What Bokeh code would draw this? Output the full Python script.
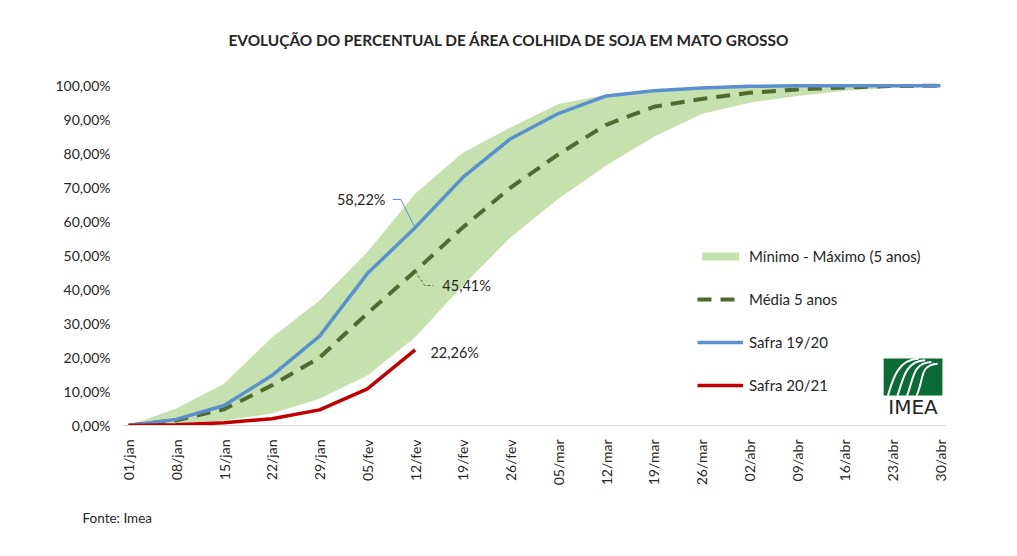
import math
from bokeh.plotting import figure
from bokeh.models import Range1d, Label, Legend, LegendItem, FixedTicker, Title
from bokeh.embed import file_html
from bokeh.resources import INLINE

semanas = ["01/jan", "08/jan", "15/jan", "22/jan", "29/jan", "05/fev", "12/fev",
           "19/fev", "26/fev", "05/mar", "12/mar", "19/mar", "26/mar", "02/abr",
           "09/abr", "16/abr", "23/abr", "30/abr"]
maximo = [0, 5.0, 12.3, 25.9, 36.8, 51.0, 68.2, 80.3, 87.7, 94.6, 97.3, 98.8,
          99.5, 99.8, 99.9, 100, 100, 100]
minimo = [0, 0.6, 1.5, 3.5, 7.9, 14.7, 26.0, 41.2, 55.4, 66.7, 76.5, 85.0,
          91.7, 95.0, 97.0, 98.5, 99.5, 100]
media5 = [0, 1.5, 4.8, 11.8, 20.0, 33.0, 45.41, 58.3, 70.0, 79.8, 88.5, 93.8,
          96.1, 97.9, 98.9, 99.5, 99.9, 100]
safra1920 = [0, 1.8, 5.9, 14.7, 26.3, 44.7, 58.22, 73.0, 84.4, 91.8, 97.0,
             98.5, 99.3, 99.8, 100, 100, 100, 100]
safra2021 = [0, 0.2, 0.8, 2.0, 4.6, 10.8, 22.26]

FONT = "Lato"
TXT = "#262626"
xs = list(range(len(semanas)))

p = figure(width=1008, height=548, output_backend="svg", toolbar_location=None,
           x_range=Range1d(-0.126, 17.105), y_range=Range1d(0, 103),
           min_border_left=122, min_border_right=63, min_border_top=75,
           min_border_bottom=123)
p.outline_line_color = None
p.grid.visible = False

p.title.text = "EVOLUÇÃO DO PERCENTUAL DE ÁREA COLHIDA DE SOJA EM MATO GROSSO"
p.title.align = "left"
p.title.offset = 106
p.title.text_font = FONT
p.title.text_font_size = "15.4px"
p.title.text_color = TXT
p.title.standoff = 53
p.add_layout(Title(text="Fonte: Imea", align="left", text_font=FONT,
                   text_font_size="13.5px", text_font_style="normal",
                   text_color=TXT, offset=-40, standoff=38), "below")

band = p.varea(xs, y1=minimo, y2=maximo, fill_color="#c4e1ae")
med = p.line(xs, media5, line_color="#4f6b2e", line_width=4, line_dash="14 9")
s1 = p.line(xs, safra1920, line_color="#5b8fd0", line_width=3.5)
s2 = p.line(xs[:len(safra2021)], safra2021, line_color="#c00000", line_width=3.5)

# eixos
p.yaxis.ticker = FixedTicker(ticks=list(range(0, 101, 10)))
p.yaxis.major_label_overrides = {v: "%d,00%%" % v for v in range(0, 101, 10)}
p.yaxis.axis_line_color = None
p.yaxis.major_tick_line_color = None
p.yaxis.minor_tick_line_color = None
p.yaxis.major_label_standoff = 6
p.xaxis.ticker = FixedTicker(ticks=xs)
p.xaxis.major_label_overrides = {i: s for i, s in enumerate(semanas)}
p.xaxis.major_label_orientation = math.pi / 2
p.xaxis.axis_line_color = "#d9d9d9"
p.xaxis.major_tick_line_color = None
p.xaxis.minor_tick_line_color = None
p.xaxis.major_label_standoff = 8
for ax in (p.xaxis, p.yaxis):
    ax.major_label_text_font = FONT
    ax.major_label_text_font_size = "14px"
    ax.major_label_text_color = TXT

# rótulos dos dados
i = 6
p.add_layout(Label(x=i - 0.62, y=safra1920[i] + 8.3, text="58,22%",
                   text_align="right", text_baseline="middle", text_font=FONT,
                   text_font_size="14.5px", text_color=TXT))
p.line([i - 0.47, i - 0.3, i], [safra1920[i] + 8.3, safra1920[i] + 8.3, safra1920[i]],
       line_color="#5b8fd0", line_width=1)
p.add_layout(Label(x=i + 0.57, y=media5[i] - 4.2, text="45,41%",
                   text_align="left", text_baseline="middle", text_font=FONT,
                   text_font_size="14.5px", text_color=TXT))
p.line([i, i + 0.2, i + 0.38], [media5[i], media5[i] - 4.2, media5[i] - 4.2],
       line_color="#4f6b2e", line_width=1, line_dash="3 2")
p.add_layout(Label(x=i + 0.32, y=safra2021[i] - 0.8, text="22,26%",
                   text_align="left", text_baseline="middle", text_font=FONT,
                   text_font_size="14.5px", text_color=TXT))

# logo IMEA
p.quad(left=15.81, right=17.04, bottom=8.8, top=19.7, fill_color="#0b6b35", line_color=None)
for k in range(4):
    p.bezier(x0=15.9 + 0.2 * k, y0=8.8, x1=16.55 + 0.13 * k, y1=19.7 - 0.5 * k,
             cx0=16.0 + 0.22 * k, cy0=13.5, cx1=16.1 + 0.15 * k, cy1=19.4 - 0.5 * k,
             line_color="white", line_width=2)
p.add_layout(Label(x=16.425, y=2.0, text="IMEA", text_align="center",
                   text_baseline="bottom", text_font="DejaVu Sans",
                   text_font_size="20px", text_color=TXT))

legend = Legend(items=[
    LegendItem(label="Mínimo - Máximo (5 anos)", renderers=[band]),
    LegendItem(label="Média 5 anos", renderers=[med]),
    LegendItem(label="Safra 19/20", renderers=[s1]),
    LegendItem(label="Safra 20/21", renderers=[s2]),
], location=(575, 31), orientation="vertical")
legend.glyph_width = 46
legend.glyph_height = 10
legend.spacing = 25
legend.padding = 0
legend.margin = 0
legend.label_standoff = 6
legend.border_line_color = None
legend.background_fill_alpha = 0
legend.label_text_font = FONT
legend.label_text_font_size = "15px"
legend.label_text_color = TXT
p.add_layout(legend)

open("out.html", "w").write(file_html(p, INLINE))
